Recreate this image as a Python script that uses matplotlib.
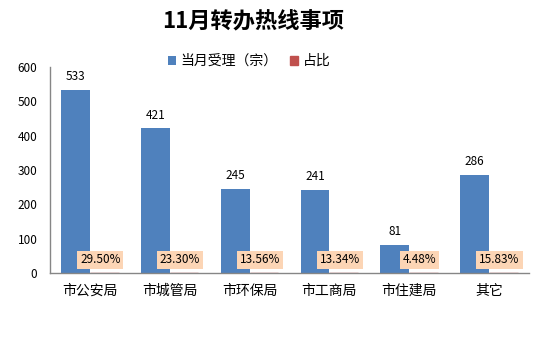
""" 11月转办热线事项 bar chart
"""

import numpy as np
import matplotlib
matplotlib.use('Agg')
import matplotlib.pyplot as plt

plt.rcParams['font.family'] = ['Noto Sans CJK SC', 'DejaVu Sans']

# Data
departments = ['市公安局', '市城管局', '市环保局', '市工商局', '市住建局', '其它']
accepted = [533, 421, 245, 241, 81, 286]
ratio = [0.2950, 0.2330, 0.1356, 0.1334, 0.0448, 0.1583]
ratio_labels = ['29.50%', '23.30%', '13.56%', '13.34%', '4.48%', '15.83%']

blue = '#4F81BD'
red = '#C0504D'
peach = '#FCD5B5'

fig = plt.figure(figsize=(5.37, 3.53), dpi=100)
ax = fig.add_axes([0.093, 0.2266, 0.892, 0.5836])

x = np.arange(len(departments))
w = 0.36
b1 = ax.bar(x - w / 2, accepted, w, color=blue, label='当月受理（宗）')
b2 = ax.bar(x + w / 2, ratio, w, color=red, edgecolor=red, linewidth=1.0,
            label='占比')

# Value labels above the blue bars
for xi, v in zip(x, accepted):
    ax.text(xi - w / 2, v + 20, str(v), ha='center', va='bottom',
            fontsize=8.5, color='black')
# Percentage labels in peach boxes
for xi, lab in zip(x, ratio_labels):
    ax.text(xi + w / 2 - 0.05, 38, lab, ha='center', va='center',
            fontsize=8.5, color='black',
            bbox=dict(boxstyle='square,pad=0.25', fc=peach, ec='none'))

ax.set_xlim(-0.5, len(departments) - 0.5)
ax.set_ylim(0, 600)
ax.set_yticks(np.arange(0, 601, 100))
ax.set_xticks(x)
ax.set_xticklabels(departments, fontsize=10)
ax.tick_params(axis='y', length=0, labelsize=8.5, pad=9)
ax.tick_params(axis='x', length=0, pad=8)
for s in ['top', 'right']:
    ax.spines[s].set_visible(False)
for s in ['left', 'bottom']:
    ax.spines[s].set_color('#868686')
    ax.spines[s].set_linewidth(1.0)

fig.text(0.472, 0.938, '11月转办热线事项', ha='center', va='center',
         fontsize=16, fontweight='bold')
fig.legend(handles=[b1, b2], loc='center', bbox_to_anchor=(0.464, 0.827),
           ncol=2, frameon=False, fontsize=10, handlelength=0.6,
           handleheight=0.6, columnspacing=0.9, handletextpad=0.3)

plt.savefig('out.png', dpi=100)
